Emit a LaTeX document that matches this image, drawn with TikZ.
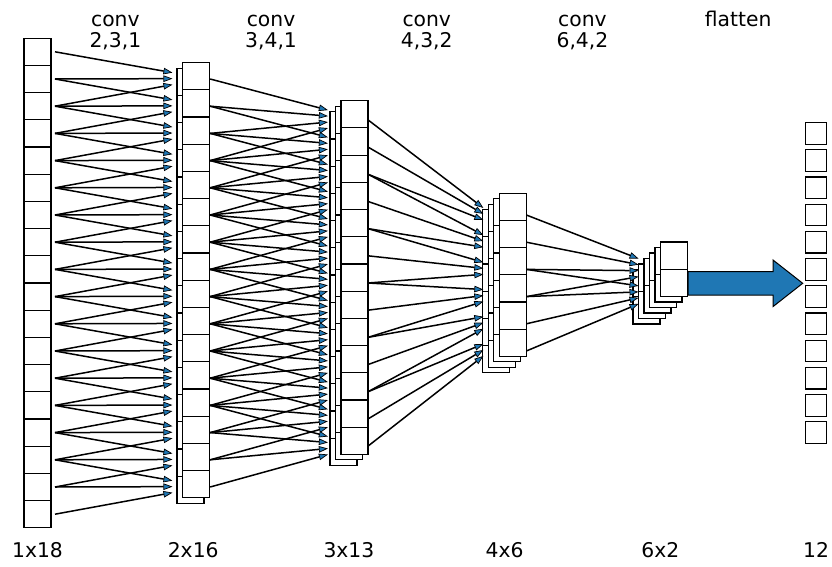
\documentclass[tikz,border=0pt]{standalone}
\usepackage{fontspec}
\setmainfont{DejaVu Sans}
\usepackage{xcolor}
\usetikzlibrary{arrows.meta, positioning}
\definecolor{mplblue}{HTML}{1F77B4}
\tikzset{
  cell/.style={draw, fill=white, line width=1.2pt, minimum width=27pt, minimum height=27.2pt, inner sep=0pt, outer sep=0pt},
  outcell/.style={draw, fill=white, line width=1.2pt, minimum size=21.7pt, inner sep=0pt, outer sep=0pt},
  link/.style={line width=1.5pt, -{Triangle[length=9pt,width=6.5pt,fill=mplblue,line width=0.7pt]}},
  bigarrow/.style={fill=mplblue, draw=black, line width=1pt},
  lbl/.style={font=\fontsize{20.3}{24}\selectfont, anchor=base, inner sep=0pt}
}

\begin{document}
\begin{tikzpicture}[x=1pt,y=-1pt]
\useasboundingbox (0,0) rectangle (832,567);
% stacks: index/rows/channels/centre x/kernel in/source gap
\foreach \k/\n/\c/\cx/\kin/\sx in {1/18/1/37.5/0/4, 2/16/2/193.2/3/0.7, 3/13/3/348.9/4/0, 4/6/4/504.6/3/0, 5/2/6/660.3/4/0}{
  \pgfmathsetmacro\xf{\cx-13.5+(\c-1)*2.75}
  \pgfmathsetmacro\yf{283-(\n*27.2+(\c-1)*5.5)/2}
  \pgfmathtruncatemacro\cb{\c-1}
  \foreach \l in {\cb,...,0}{
    \foreach \i in {1,...,\n}
      \node[cell] (s\k-\l-\i) at ({\xf+13.5-\l*5.5},{\yf+\l*5.5+(\i-0.5)*27.2}) {};
  }
  \foreach \i in {1,...,\n}
    \coordinate (src\k-\i) at ({\xf+27+\sx},{\yf+(\c-1)*2.75+(\i-0.5)*27.2});
  \ifnum\kin>0
    \foreach \i in {1,...,\n}{
      \foreach \m in {1,...,\kin}
        \coordinate (tgt\k-\i-\m) at ({\xf-7-3*(\c-1)},{\yf+(\i-0.5)*27.2+2.4*(\c-1)+(\m-(\kin+1)/2)*6});
    }
  \fi
}
% conv links: from/to/kernel/stride/rows out
\foreach \a/\b/\kk/\st/\nb in {1/2/3/1/16, 2/3/4/1/13, 3/4/3/2/6, 4/5/4/2/2}{
  \foreach \j in {1,...,\nb}{
    \foreach \m in {1,...,\kk}{
      \pgfmathtruncatemacro\i{\st*(\j-1)+\m}
      \draw[link] (src\a-\i) -- (tgt\b-\j-\m);
    }
  }
}
\foreach \i in {1,...,12}
  \node[outcell] (o-\i) at (816,{283+(\i-6.5)*27.2}) {};
\draw[bigarrow] (688,271.7) -- (773,271.7) -- (773,260) -- (802.7,283.3) -- (773,306.6) -- (773,295) -- (688,295) -- cycle;
\foreach \i/\x/\t in {1/115.35/{2,3,1}, 2/271.05/{3,4,1}, 3/426.75/{4,3,2}, 4/582.45/{6,4,2}}{
  \node[lbl] (conv\i) at (\x,26.7) {conv};
  \node[lbl] (par\i) at (\x,47.3) {\t};
}
\node[lbl] (flat) at (738.15,26.5) {flatten};
\foreach \i/\x/\t in {1/37.5/1x18, 2/193.2/2x16, 3/348.9/3x13, 4/504.6/4x6, 5/660.3/6x2, 6/816/12}
  \node[lbl] (size\i) at (\x,557.3) {\t};
\end{tikzpicture}
\end{document}
